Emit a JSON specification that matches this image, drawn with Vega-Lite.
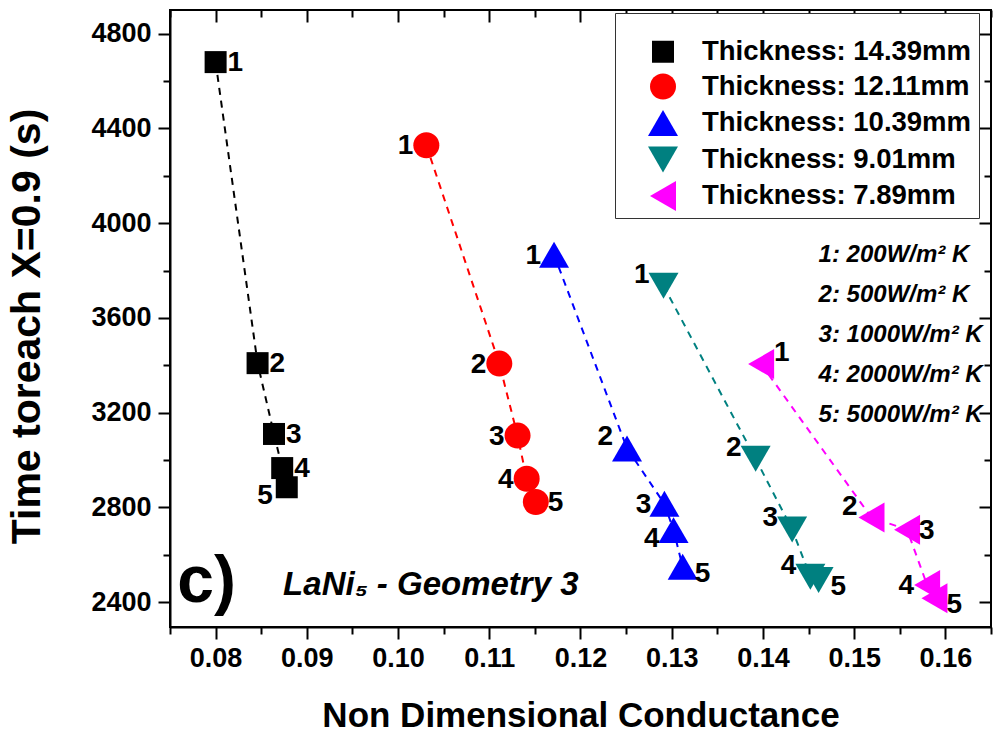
{
  "$schema": "https://vega.github.io/schema/vega-lite/v6.json",
  "width": 821,
  "height": 617,
  "autosize": {"type": "none"},
  "padding": {"left": 170, "top": 10, "right": 6, "bottom": 108},
  "background": "white",
  "config": {
    "view": {"stroke": "black", "strokeWidth": 2},
    "font": "Liberation Sans",
    "axis": {
      "domainColor": "black", "domainWidth": 2, "tickColor": "black", "tickWidth": 2,
      "grid": false, "labelFont": "Liberation Sans", "labelFontWeight": "bold", "labelFontSize": 27,
      "labelColor": "black", "titleFont": "Liberation Sans", "titleFontWeight": "bold", "titleColor": "black"
    },
    "legend": {
      "labelFont": "Liberation Sans", "labelFontWeight": "bold", "labelFontSize": 27.5, "labelColor": "black", "labelLimit": 400
    }
  },
  "datasets": {
    "pts": [
      {"series": "Thickness: 14.39mm", "t": 14.39, "k": 1, "x": 0.0800, "y": 4680},
      {"series": "Thickness: 14.39mm", "t": 14.39, "k": 2, "x": 0.0846, "y": 3409},
      {"series": "Thickness: 14.39mm", "t": 14.39, "k": 3, "x": 0.0864, "y": 3110},
      {"series": "Thickness: 14.39mm", "t": 14.39, "k": 4, "x": 0.0873, "y": 2966},
      {"series": "Thickness: 14.39mm", "t": 14.39, "k": 5, "x": 0.0878, "y": 2885},
      {"series": "Thickness: 12.11mm", "t": 12.11, "k": 1, "x": 0.1031, "y": 4329},
      {"series": "Thickness: 12.11mm", "t": 12.11, "k": 2, "x": 0.1111, "y": 3407},
      {"series": "Thickness: 12.11mm", "t": 12.11, "k": 3, "x": 0.1131, "y": 3103},
      {"series": "Thickness: 12.11mm", "t": 12.11, "k": 4, "x": 0.1141, "y": 2921},
      {"series": "Thickness: 12.11mm", "t": 12.11, "k": 5, "x": 0.1151, "y": 2823},
      {"series": "Thickness: 10.39mm", "t": 10.39, "k": 1, "x": 0.1171, "y": 3867},
      {"series": "Thickness: 10.39mm", "t": 10.39, "k": 2, "x": 0.1251, "y": 3049},
      {"series": "Thickness: 10.39mm", "t": 10.39, "k": 3, "x": 0.1292, "y": 2815},
      {"series": "Thickness: 10.39mm", "t": 10.39, "k": 4, "x": 0.1302, "y": 2704},
      {"series": "Thickness: 10.39mm", "t": 10.39, "k": 5, "x": 0.1312, "y": 2549},
      {"series": "Thickness: 9.01mm", "t": 9.01, "k": 1, "x": 0.1291, "y": 3736},
      {"series": "Thickness: 9.01mm", "t": 9.01, "k": 2, "x": 0.1392, "y": 3005},
      {"series": "Thickness: 9.01mm", "t": 9.01, "k": 3, "x": 0.1432, "y": 2707},
      {"series": "Thickness: 9.01mm", "t": 9.01, "k": 4, "x": 0.1452, "y": 2507},
      {"series": "Thickness: 9.01mm", "t": 9.01, "k": 5, "x": 0.1461, "y": 2493},
      {"series": "Thickness: 7.89mm", "t": 7.89, "k": 1, "x": 0.1398, "y": 3405},
      {"series": "Thickness: 7.89mm", "t": 7.89, "k": 2, "x": 0.1519, "y": 2757},
      {"series": "Thickness: 7.89mm", "t": 7.89, "k": 3, "x": 0.1558, "y": 2706},
      {"series": "Thickness: 7.89mm", "t": 7.89, "k": 4, "x": 0.1580, "y": 2472},
      {"series": "Thickness: 7.89mm", "t": 7.89, "k": 5, "x": 0.1588, "y": 2416}
    ],
    "one": [{"note": "annotation"}]
  },
  "data": {"name": "pts"},
  "layer": [
    {
      "mark": {"type": "line", "strokeWidth": 2, "strokeDash": [7, 6]},
      "encoding": {
        "x": {"field": "x", "type": "quantitative", "scale": {"domain": [0.075, 0.165], "nice": false, "zero": false},
          "axis": {"orient": "bottom", "title": "Non Dimensional Conductance", "titleFontSize": 35, "titlePadding": 27,
            "values": [0.075, 0.08, 0.085, 0.09, 0.095, 0.1, 0.105, 0.11, 0.115, 0.12, 0.125, 0.13, 0.135, 0.14, 0.145, 0.15, 0.155, 0.16, 0.165],
            "labelExpr": "round(datum.value*1000) % 10 == 0 ? format(datum.value, '.2f') : ''",
            "tickSize": {"condition": {"test": "round(datum.value*1000) % 10 != 0", "value": 7}, "value": 12},
            "labelFontSize": 27, "labelPadding": 6, "labelFlush": false, "labelOverlap": false}},
        "y": {"field": "y", "type": "quantitative", "scale": {"domain": [2295, 4900], "nice": false, "zero": false},
          "axis": {"orient": "left", "title": "Time toreach X=0.9 (s)", "titleFontSize": 41, "titlePadding": 42, "titleY": 316,
            "values": [2400, 2600, 2800, 3000, 3200, 3400, 3600, 3800, 4000, 4200, 4400, 4600, 4800],
            "labelExpr": "datum.value % 400 == 0 ? format(datum.value, 'd') : ''",
            "tickSize": {"condition": {"test": "datum.value % 400 != 0", "value": 7}, "value": 12},
            "labelFontSize": 27, "labelPadding": 7, "labelFlush": false, "labelOverlap": false}},
        "detail": {"field": "series"},
        "order": {"field": "k", "type": "quantitative"},
        "stroke": {"field": "series", "type": "nominal", "legend": null,
          "scale": {"domain": ["Thickness: 7.89mm", "Thickness: 9.01mm", "Thickness: 10.39mm", "Thickness: 12.11mm", "Thickness: 14.39mm"],
            "range": ["#ff00ff", "#008080", "#0000ff", "#ff0000", "#000000"]}}
      }
    },
    {
      "mark": {"type": "point", "filled": true, "opacity": 1},
      "encoding": {
        "x": {"field": "x", "type": "quantitative",
          "axis": {"orient": "top", "title": null, "labels": false, "domain": false,
            "values": [0.075, 0.08, 0.085, 0.09, 0.095, 0.1, 0.105, 0.11, 0.115, 0.12, 0.125, 0.13, 0.135, 0.14, 0.145, 0.15, 0.155, 0.16, 0.165],
            "tickSize": {"condition": {"test": "round(datum.value*1000) % 10 != 0", "value": -7}, "value": -12}}},
        "y": {"field": "y", "type": "quantitative",
          "axis": {"orient": "right", "title": null, "labels": false, "domain": false,
            "values": [2400, 2600, 2800, 3000, 3200, 3400, 3600, 3800, 4000, 4200, 4400, 4600, 4800],
            "tickSize": {"condition": {"test": "datum.value % 400 != 0", "value": -7}, "value": -12}}},
        "color": {"field": "series", "type": "nominal",
          "scale": {"domain": ["Thickness: 14.39mm", "Thickness: 12.11mm", "Thickness: 10.39mm", "Thickness: 9.01mm", "Thickness: 7.89mm"],
            "range": ["#000000", "#ff0000", "#0000ff", "#008080", "#ff00ff"]},
          "legend": {"title": " ", "titleFontSize": 13, "titlePadding": 5, "orient": "none", "legendX": 445, "legendY": 3, "padding": 7,
            "strokeColor": "#333333", "fillColor": "white", "symbolOffset": 25, "labelOffset": 23, "rowPadding": 6.5}},
        "shape": {"field": "series", "type": "nominal",
          "scale": {"domain": ["Thickness: 14.39mm", "Thickness: 12.11mm", "Thickness: 10.39mm", "Thickness: 9.01mm", "Thickness: 7.89mm"],
            "range": ["square", "circle", "triangle-up", "triangle-down", "triangle-left"]}},
        "size": {"field": "series", "type": "nominal",
          "scale": {"type": "ordinal", "domain": ["Thickness: 14.39mm", "Thickness: 12.11mm", "Thickness: 10.39mm", "Thickness: 9.01mm", "Thickness: 7.89mm"],
            "range": [484, 676, 900, 900, 900]}}
      }
    },
    {
      "transform": [{"filter": "(datum.t == 14.39 && datum.k <= 4) || (datum.t == 12.11 && datum.k == 5) || (datum.t == 7.89 && datum.k == 3)"}],
      "mark": {"type": "text", "align": "left", "baseline": "middle", "dx": 12, "dy": 1, "fontSize": 28, "fontWeight": "bold", "font": "Liberation Sans", "color": "black"},
      "encoding": {"x": {"field": "x", "type": "quantitative", "axis": null}, "y": {"field": "y", "type": "quantitative", "axis": null}, "text": {"field": "k"}}
    },
    {
      "transform": [{"filter": "datum.k == 5 && (datum.t == 10.39 || datum.t == 9.01 || datum.t == 7.89)"}],
      "mark": {"type": "text", "align": "left", "baseline": "middle", "dx": 12, "dy": 7, "fontSize": 28, "fontWeight": "bold", "font": "Liberation Sans", "color": "black"},
      "encoding": {"x": {"field": "x", "type": "quantitative", "axis": null}, "y": {"field": "y", "type": "quantitative", "axis": null}, "text": {"field": "k"}}
    },
    {
      "transform": [{"filter": "datum.t == 7.89 && datum.k == 1"}],
      "mark": {"type": "text", "align": "left", "baseline": "middle", "dx": 13, "dy": -11, "fontSize": 28, "fontWeight": "bold", "font": "Liberation Sans", "color": "black"},
      "encoding": {"x": {"field": "x", "type": "quantitative", "axis": null}, "y": {"field": "y", "type": "quantitative", "axis": null}, "text": {"field": "k"}}
    },
    {
      "transform": [{"filter": "(datum.t == 12.11 && datum.k <= 4) || (datum.t == 10.39 && (datum.k == 1 || datum.k == 3)) || (datum.t == 7.89 && datum.k == 4)"}],
      "mark": {"type": "text", "align": "right", "baseline": "middle", "dx": -13, "dy": 1, "fontSize": 28, "fontWeight": "bold", "font": "Liberation Sans", "color": "black"},
      "encoding": {"x": {"field": "x", "type": "quantitative", "axis": null}, "y": {"field": "y", "type": "quantitative", "axis": null}, "text": {"field": "k"}}
    },
    {
      "transform": [{"filter": "(datum.t == 10.39 && datum.k == 2) || (datum.t == 9.01 && datum.k <= 4) || (datum.t == 7.89 && datum.k == 2)"}],
      "mark": {"type": "text", "align": "right", "baseline": "middle", "dx": -14, "dy": -11, "fontSize": 28, "fontWeight": "bold", "font": "Liberation Sans", "color": "black"},
      "encoding": {"x": {"field": "x", "type": "quantitative", "axis": null}, "y": {"field": "y", "type": "quantitative", "axis": null}, "text": {"field": "k"}}
    },
    {
      "transform": [{"filter": "(datum.t == 14.39 && datum.k == 5) || (datum.t == 10.39 && datum.k == 4)"}],
      "mark": {"type": "text", "align": "right", "baseline": "middle", "dx": -14, "dy": 9, "fontSize": 28, "fontWeight": "bold", "font": "Liberation Sans", "color": "black"},
      "encoding": {"x": {"field": "x", "type": "quantitative", "axis": null}, "y": {"field": "y", "type": "quantitative", "axis": null}, "text": {"field": "k"}}
    },
    {
      "data": {"name": "one"},
      "mark": {"type": "text", "align": "left", "baseline": "alphabetic", "fontSize": 24, "fontWeight": "bold", "fontStyle": "italic", "font": "Liberation Sans", "color": "black", "lineHeight": 40,
        "text": ["1: 200W/m² K", "2: 500W/m² K", "3: 1000W/m² K", "4: 2000W/m² K", "5: 5000W/m² K"]},
      "encoding": {"x": {"datum": 0.1461, "type": "quantitative", "axis": null}, "y": {"datum": 3838, "type": "quantitative", "axis": null}}
    },
    {
      "data": {"name": "one"},
      "mark": {"type": "text", "align": "left", "baseline": "alphabetic", "fontSize": 66, "fontWeight": "bold", "font": "Liberation Sans", "color": "black", "text": "c)"},
      "encoding": {"x": {"datum": 0.0758, "type": "quantitative", "axis": null}, "y": {"datum": 2400, "type": "quantitative", "axis": null}}
    },
    {
      "data": {"name": "one"},
      "mark": {"type": "text", "align": "left", "baseline": "alphabetic", "fontSize": 33, "fontWeight": "bold", "fontStyle": "italic", "font": "Liberation Sans", "color": "black", "text": "LaNi₅ - Geometry 3"},
      "encoding": {"x": {"datum": 0.0874, "type": "quantitative", "axis": null}, "y": {"datum": 2430, "type": "quantitative", "axis": null}}
    }
  ]
}
